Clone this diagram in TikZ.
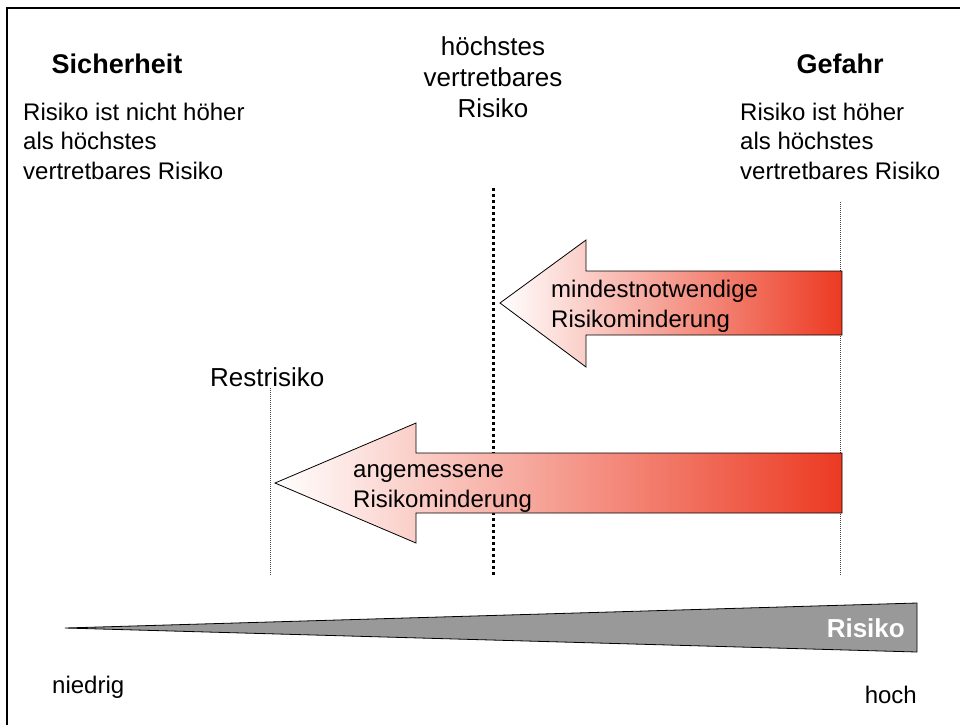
\documentclass[tikz,border=0pt]{standalone}
\usepackage{fontspec}
\setmainfont{Liberation Sans}
\definecolor{arrowred}{RGB}{236,58,34}
\definecolor{wedgegray}{RGB}{153,153,153}
\begin{document}
\begin{tikzpicture}[x=1pt,y=-1pt,
  txt/.style={inner sep=0pt, font=\fontsize{24}{29.5}\selectfont, align=left},
  ctxt/.style={inner sep=0pt, font=\fontsize{26}{31}\selectfont, align=center},
  headtxt/.style={inner sep=0pt, font=\fontsize{27}{32}\selectfont\bfseries},
  thinline/.style={draw=black!75, line width=0.8pt, dash pattern=on 1pt off 1pt},
  thickdots/.style={draw=black, line width=3pt, dash pattern=on 3pt off 3pt},
  arrowshape/.style={draw=black, line width=0.8pt, left color=white, middle color=arrowred!38, right color=arrowred},
  wedge/.style={draw=black, line width=0.8pt, fill=wedgegray},
  frameline/.style={draw=black, line width=2.5pt}
]
\useasboundingbox (0,0) rectangle (960,724);
% frame (only left and top edges visible)
\draw[frameline] (7,730) -- (7,8) -- (965,8);

% headings and texts (base anchor of multi-line nodes = last line's baseline)
\node[headtxt, anchor=base] (sich) at (117,73) {Sicherheit};
\node[headtxt, anchor=base] (gef) at (840,73) {Gefahr};
\node[txt, anchor=base west] (sichtxt) at (23,179) {Risiko ist nicht höher\\als höchstes\\vertretbares Risiko};
\node[txt, anchor=base west] (geftxt) at (740,179) {Risiko ist höher\\als höchstes\\vertretbares Risiko};
\node[ctxt, anchor=base] (maxtxt) at (493,117) {höchstes\\vertretbares\\Risiko};
\node[inner sep=0pt, font=\fontsize{26}{31}\selectfont, anchor=base west] (resttxt) at (210,386) {Restrisiko};

% vertical lines
\coordinate (maxTop) at (493,188);
\coordinate (maxBot) at (493,577);
\coordinate (restTop) at (270,388);
\coordinate (restBot) at (270,575);
\coordinate (gefTop) at (840,202);
\coordinate (gefBot) at (840,575);
\draw[thinline] (restTop) -- (restBot);
\draw[thinline] (gefTop) -- (gefBot);
\draw[thickdots] (maxTop) -- (maxBot);

% arrows
\path[arrowshape] (842,271) -- (586,271) -- (586,240) -- (500,303) -- (586,367) -- (586,335) -- (842,335) -- cycle;
\path[arrowshape] (842,453) -- (416,453) -- (416,423) -- (275,483) -- (416,543) -- (416,513) -- (842,513) -- cycle;
\node[txt, anchor=base west] (a1txt) at (551,327) {mindestnotwendige\\Risikominderung};
\node[txt, anchor=base west] (a2txt) at (353,507) {angemessene\\Risikominderung};

% risk wedge
\path[wedge] (65,628) -- (917,603) -- (917,652) -- cycle;
\node[inner sep=0pt, font=\fontsize{26}{31}\selectfont\bfseries, text=white, anchor=base east] (risk) at (905,637) {Risiko};
\node[txt, anchor=base west] (low) at (52,693) {niedrig};
\node[txt, anchor=base east] (high) at (917,703) {hoch};
\end{tikzpicture}
\end{document}
